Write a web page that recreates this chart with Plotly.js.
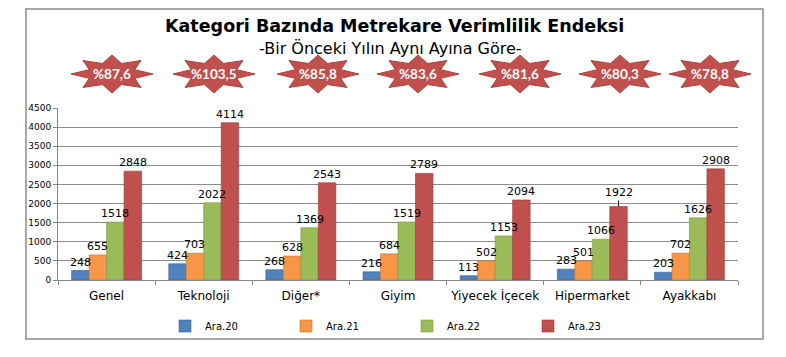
<!DOCTYPE html>
<html>
<head>
<meta charset="utf-8">
<script src="https://cdn.plot.ly/plotly-3.0.1.min.js"></script>
<style>html,body{margin:0;padding:0;background:#fff;}#chart{width:786px;height:357px;}</style>
</head>
<body>
<div id="chart"></div>
<script>
const categories = ["Genel", "Teknoloji", "Diğer*", "Giyim", "Yiyecek İçecek", "Hipermarket", "Ayakkabı"];
const ara20 = [248, 424, 268, 216, 113, 283, 203];
const ara21 = [655, 703, 628, 684, 502, 501, 702];
const ara22 = [1518, 2022, 1369, 1519, 1153, 1066, 1626];
const ara23 = [2848, 4114, 2543, 2789, 2094, 1922, 2908];
const badges = ["%87,6", "%103,5", "%85,8", "%83,6", "%81,6", "%80,3", "%78,8"];
const seriesNames = ["Ara.20", "Ara.21", "Ara.22", "Ara.23"];

const colors = ["#4F81BD", "#F79646", "#9BBB59", "#C0504D"];
const lines = ["#3A6399", "#C7762F", "#789A3F", "#953A38"];
const W = 786, H = 357;
const M = {l: 58, r: 48, t: 108, b: 77};
const PW = W - M.l - M.r, PH = H - M.t - M.b;
const px = x => (x - M.l) / PW;
const py = y => (H - M.b - y) / PH;
const BARGAP = 0.28;

const allSeries = [ara20, ara21, ara22, ara23];
const traces = allSeries.map((vals, i) => ({
  type: "bar", name: seriesNames[i], x: categories, y: vals,
  marker: {color: colors[i], line: {color: lines[i], width: 0.6}},
  hoverinfo: "x+y"
}));

const shapes = [];
const annotations = [];

// value labels on top of everything (Hipermarket / Ara.23 label has a leader line)
const catW = PW / categories.length;
const barW = catW * (1 - BARGAP) / allSeries.length;
allSeries.forEach((vals, i) => {
  vals.forEach((v, k) => {
    const leader = (i === 3 && k === 5);
    const a = {xref: "x", yref: "y", x: categories[k], y: v, text: String(v),
      xshift: (i - (allSeries.length - 1) / 2) * barW,
      font: {family: "DejaVu Sans", size: 11, color: "#000"}};
    if (leader) {
      Object.assign(a, {showarrow: true, arrowhead: 0, arrowwidth: 1, arrowcolor: "#000", ax: 0, ay: -14, standoff: 0});
    } else {
      Object.assign(a, {showarrow: false, xanchor: "center", yanchor: "bottom"});
    }
    annotations.push(a);
  });
});

// badge stars
const badgeX = [112, 214, 318, 418, 520, 620, 710];
const badgeY = 74;
badgeX.forEach((cx, k) => {
  const rx = 41, ry = 19, inner = 0.6;
  let d = "";
  for (let j = 0; j < 16; j++) {
    const a = j * Math.PI / 8;
    const r = (j % 2 === 0) ? 1 : inner;
    const X = cx + rx * r * Math.cos(a);
    const Y = badgeY - ry * r * Math.sin(a);
    d += (j === 0 ? "M" : "L") + px(X).toFixed(5) + "," + py(Y).toFixed(5) + " ";
  }
  d += "Z";
  shapes.push({type: "path", xref: "paper", yref: "paper", path: d,
    fillcolor: "#C0504D", line: {color: "#B0413E", width: 1}});
  annotations.push({xref: "paper", yref: "paper", x: px(cx), y: py(badgeY), text: "<b>" + badges[k] + "</b>",
    showarrow: false, font: {family: "Lato", size: 13.5, color: "#fff"}, xanchor: "center", yanchor: "middle"});
});

// outer border
shapes.push({type: "rect", xref: "paper", yref: "paper", x0: px(26), x1: px(763), y0: py(339), y1: py(9),
  line: {color: "#8c8c8c", width: 1.5}, fillcolor: "rgba(0,0,0,0)", layer: "below"});

annotations.push({xref: "paper", yref: "paper", x: px(394), y: py(25.5), text: "<b>Kategori Bazında Metrekare Verimlilik Endeksi</b>",
  showarrow: false, font: {family: "DejaVu Sans", size: 17.5, color: "#000"}, xanchor: "center", yanchor: "middle"});
annotations.push({xref: "paper", yref: "paper", x: px(390), y: py(48.5), text: "-Bir Önceki Yılın Aynı Ayına Göre-",
  showarrow: false, font: {family: "DejaVu Sans", size: 16, color: "#000"}, xanchor: "center", yanchor: "middle"});

const layout = {
  width: W, height: H, margin: M,
  paper_bgcolor: "#fff", plot_bgcolor: "#fff",
  barmode: "group", bargap: BARGAP, bargroupgap: 0,
  showlegend: true,
  legend: {orientation: "h", x: px(165), y: py(326), yanchor: "middle", xanchor: "left",
    font: {family: "DejaVu Sans", size: 10, color: "#000"}, entrywidth: 76, itemwidth: 30,
    bgcolor: "rgba(0,0,0,0)"},
  xaxis: {type: "category", showline: true, linecolor: "#868686", linewidth: 1,
    ticks: "outside", tickson: "boundaries", ticklen: 4, tickcolor: "#868686", tickangle: 0,
    ticklabelstandoff: 5,
    tickfont: {family: "DejaVu Sans", size: 12, color: "#000"}, showgrid: false, fixedrange: true},
  yaxis: {range: [0, 4500], dtick: 500, showline: true, linecolor: "#868686", linewidth: 1,
    ticks: "outside", ticklen: 4, tickcolor: "#868686", gridcolor: "#8c8c8c", gridwidth: 1,
    tickfont: {family: "DejaVu Sans", size: 9, color: "#000"}, zeroline: false, fixedrange: true},
  shapes: shapes, annotations: annotations
};
Plotly.newPlot("chart", traces, layout, {displayModeBar: false, staticPlot: true});
</script>
</body>
</html>
